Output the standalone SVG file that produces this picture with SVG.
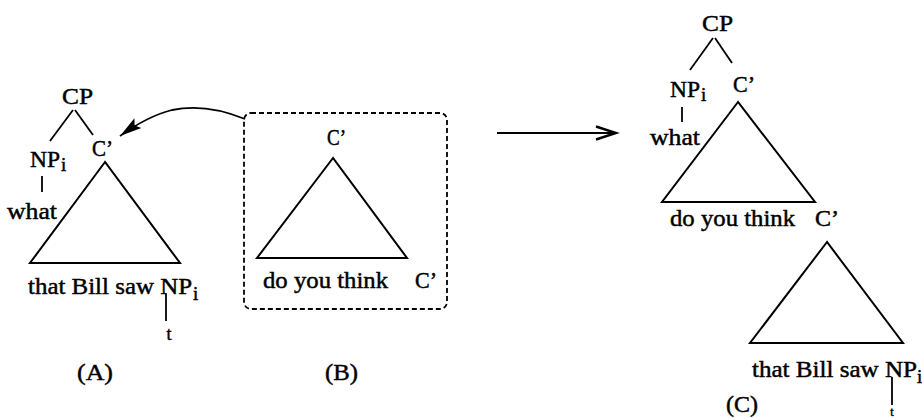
<svg xmlns="http://www.w3.org/2000/svg" width="922" height="419" viewBox="0 0 922 419">
<style>
text{font-family:"Liberation Serif","Times New Roman",serif;font-size:23px;fill:#000;stroke:#000;stroke-width:0.45}
.sub{font-size:19px}
.t{font-size:18px}
.ln{stroke:#000;stroke-width:1.8;fill:none}
.tri{stroke:#000;stroke-width:2;fill:none;stroke-linejoin:miter}
.box{stroke:#000;stroke-width:1.8;fill:none;stroke-dasharray:5 3}
</style>
<defs>
<marker id="solid" viewBox="-25 -10 30 20" refX="0" refY="0" markerWidth="30" markerHeight="20" markerUnits="userSpaceOnUse" orient="auto" overflow="visible">
<path d="M0,0 L-22,-6 L-18,0 L-22,6 Z" fill="#000"/>
</marker>
<marker id="open" viewBox="-25 -10 30 20" refX="0" refY="0" markerWidth="30" markerHeight="20" markerUnits="userSpaceOnUse" orient="auto" overflow="visible">
<path d="M-20,-6.5 L0,0 L-20,6.5" fill="none" stroke="#000" stroke-width="2.4"/>
</marker>
</defs>

<g id="treeA">
<text x="62" y="104" textLength="31" lengthAdjust="spacingAndGlyphs">CP</text>
<line class="ln" x1="73" y1="110" x2="50" y2="141"/>
<line class="ln" x1="75" y1="110" x2="93" y2="135"/>
<text x="30" y="167" textLength="30" lengthAdjust="spacingAndGlyphs">NP</text><text class="sub" x="61" y="171">i</text>
<line class="ln" x1="42" y1="176" x2="42" y2="192"/>
<text x="7" y="219" textLength="50" lengthAdjust="spacingAndGlyphs">what</text>
<text x="92" y="156" textLength="21" lengthAdjust="spacingAndGlyphs">C’</text>
<polygon class="tri" points="105,162 30,263 180,263"/>
<text x="28" y="294" textLength="164" lengthAdjust="spacingAndGlyphs">that Bill saw NP</text><text class="sub" x="193" y="300">i</text>
<line class="ln" x1="166" y1="294" x2="166" y2="321"/>
<text class="t" x="169" y="340" text-anchor="middle">t</text>
<text x="77" y="380" textLength="36" lengthAdjust="spacingAndGlyphs">(A)</text>
</g>

<g id="boxB">
<rect class="box" x="244" y="113" width="203" height="196" rx="7"/>
<text x="327" y="145" textLength="19" lengthAdjust="spacingAndGlyphs">C’</text>
<polygon class="tri" points="333,158 257,258 407,258"/>
<text x="263" y="288" textLength="125" lengthAdjust="spacingAndGlyphs">do you think</text>
<text x="415" y="288" textLength="22" lengthAdjust="spacingAndGlyphs">C’</text>
<text x="325" y="380" textLength="33" lengthAdjust="spacingAndGlyphs">(B)</text>
</g>

<g id="treeC">
<text x="702" y="31" textLength="31" lengthAdjust="spacingAndGlyphs">CP</text>
<line class="ln" x1="713" y1="38" x2="690" y2="70"/>
<line class="ln" x1="715" y1="38" x2="732" y2="63"/>
<text x="670" y="97" textLength="30" lengthAdjust="spacingAndGlyphs">NP</text><text class="sub" x="701" y="101">i</text>
<line class="ln" x1="682" y1="107" x2="682" y2="122"/>
<text x="650" y="145" textLength="50" lengthAdjust="spacingAndGlyphs">what</text>
<text x="733" y="92" textLength="22" lengthAdjust="spacingAndGlyphs">C’</text>
<polygon class="tri" points="738,102 662,202 815,202"/>
<text x="670" y="226" textLength="125" lengthAdjust="spacingAndGlyphs">do you think</text>
<text x="815" y="226" textLength="24" lengthAdjust="spacingAndGlyphs">C’</text>
<polygon class="tri" points="827,242 750,343 903,343"/>
<text x="752" y="377" textLength="165" lengthAdjust="spacingAndGlyphs">that Bill saw NP</text><text class="sub" x="917" y="383">i</text>
<line class="ln" x1="892" y1="377" x2="892" y2="405"/>
<text x="892" y="416" text-anchor="middle" style="font-size:12px">t</text>
<text x="726" y="412" textLength="32" lengthAdjust="spacingAndGlyphs">(C)</text>
</g>

<g id="connectors">
<path class="ln" d="M245,119 C228,112 200,104 172,110 C152,115 134,126 120,136" marker-end="url(#solid)"/>
<line class="ln" x1="497" y1="133" x2="616" y2="133" marker-end="url(#open)"/>
</g>
</svg>
